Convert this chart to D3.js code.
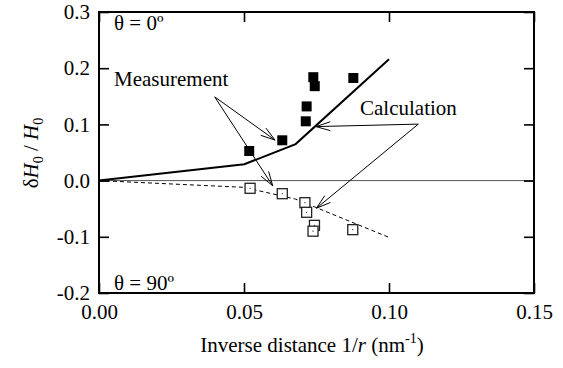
<!DOCTYPE html>
<html><head><meta charset="utf-8">
<script src="https://cdn.jsdelivr.net/npm/d3@7"></script>
<style>body{margin:0;background:#fff}svg{display:block}text{font-family:"Liberation Serif","Times New Roman",serif}</style>
</head><body><svg id="c" width="563" height="368"></svg>
<script>
const xTicks=[0,0.05,0.10,0.15];
const yTicks=[-0.2,-0.1,0.0,0.1,0.2,0.3];
const measX0=[0.0518,0.0632,0.0713,0.0716,0.0739,0.0744,0.0877];
const measY0=[0.0527,0.0717,0.1055,0.132,0.184,0.168,0.1826];
const measX90=[0.0521,0.0632,0.0710,0.0716,0.0743,0.0738,0.0875];
const measY90=[-0.0137,-0.0233,-0.0393,-0.0564,-0.0796,-0.090,-0.0873];
const calcX0=[0,0.0501,0.0678,0.10];
const calcY0=[0,0.029,0.065,0.216];
const calcX90=[0,0.05,0.0678,0.10];
const calcY90=[0,-0.012,-0.033,-0.101];
// annotation anchors in data space
const measArrow={from:[0.0399,0.149],to:[[0.0607,0.0721],[0.0599,-0.0093]]};
const calcArrow={from:[0.1101,0.1005],to:[[0.0748,0.0961],[0.0750,-0.0491]]};

const svg=d3.select("#c");
const L=99,R=534,T=12,B=293;
const x=d3.scaleLinear().domain([0,0.15]).range([L,R]);
const y=d3.scaleLinear().domain([-0.2,0.3]).range([B,T]);

svg.append("line").attr("x1",L).attr("x2",R).attr("y1",y(0)).attr("y2",y(0)).attr("stroke","#555").attr("stroke-width",1);

const fmtY=d=>d3.format(".1f")(d).replace("−","-");
const fmtX=d=>d3.format(".2f")(d);
const ax=svg.append("g").attr("transform",`translate(0,${B})`).call(d3.axisBottom(x).tickValues(xTicks).tickSizeInner(-10).tickSizeOuter(0).tickPadding(20).tickFormat(fmtX));
const axT=svg.append("g").attr("transform",`translate(0,${T})`).call(d3.axisTop(x).tickValues(xTicks).tickSizeInner(-10).tickSizeOuter(0).tickFormat(""));
const ay=svg.append("g").attr("transform",`translate(${L},0)`).call(d3.axisLeft(y).tickValues(yTicks).tickSizeInner(-10).tickSizeOuter(0).tickPadding(9).tickFormat(fmtY));
const ayR=svg.append("g").attr("transform",`translate(${R},0)`).call(d3.axisRight(y).tickValues(yTicks).tickSizeInner(-10).tickSizeOuter(0).tickFormat(""));
[ax,axT,ay,ayR].forEach(g=>{g.select(".domain").remove();g.selectAll("line").attr("stroke","#000").attr("stroke-width",1.6);g.selectAll("text").attr("font-size",21).attr("fill","#000").attr("font-family","Liberation Serif, serif");});
ax.selectAll("text").attr("dy","0.3em");
svg.append("rect").attr("x",L).attr("y",T).attr("width",R-L).attr("height",B-T).attr("fill","none").attr("stroke","#000").attr("stroke-width",2);

const line=d3.line().x(d=>x(d[0])).y(d=>y(d[1]));
svg.append("path").attr("d",line(calcX0.map((v,i)=>[v,calcY0[i]]))).attr("fill","none").attr("stroke","#000").attr("stroke-width",2);
svg.append("path").attr("d",line(calcX90.map((v,i)=>[v,calcY90[i]]))).attr("fill","none").attr("stroke","#000").attr("stroke-width",1).attr("stroke-dasharray","4,3");

const s=10;
svg.append("g").selectAll("rect").data(measX0.map((v,i)=>[v,measY0[i]])).join("rect")
 .attr("x",d=>x(d[0])-s/2).attr("y",d=>y(d[1])-s/2).attr("width",s).attr("height",s).attr("fill","#000");
const g90=svg.append("g").selectAll("g").data(measX90.map((v,i)=>[v,measY90[i]])).join("g");
g90.append("rect").attr("x",d=>x(d[0])-s/2).attr("y",d=>y(d[1])-s/2).attr("width",s).attr("height",s).attr("fill","#fff").attr("stroke","#222").attr("stroke-width",1.3);
g90.append("rect").attr("x",d=>x(d[0])-0.5).attr("y",d=>y(d[1])-0.5).attr("width",1).attr("height",1).attr("fill","#000");

function arrow(from,to){
  const x1=x(from[0]),y1=y(from[1]),x2=x(to[0]),y2=y(to[1]);
  svg.append("line").attr("x1",x1).attr("y1",y1).attr("x2",x2).attr("y2",y2).attr("stroke","#000").attr("stroke-width",1);
  const a=Math.atan2(y1-y2,x1-x2),len=15,w=0.3;
  [a+w,a-w].forEach(b=>svg.append("line").attr("x1",x2).attr("y1",y2).attr("x2",x2+len*Math.cos(b)).attr("y2",y2+len*Math.sin(b)).attr("stroke","#000").attr("stroke-width",1));
}
measArrow.to.forEach(t=>arrow(measArrow.from,t));
calcArrow.to.forEach(t=>arrow(calcArrow.from,t));

const txt=(t,X,Y,anchor)=>svg.append("text").attr("x",X).attr("y",Y).attr("font-size",21).attr("text-anchor",anchor||"start").text(t);
txt("Measurement",114,86);
txt("Calculation",360,115);
txt("θ = 0º",114,30);
txt("θ = 90º",114,290);

const xl=svg.append("text").attr("x",312).attr("y",352).attr("font-size",21).attr("text-anchor","middle");
xl.append("tspan").text("Inverse distance 1/");
xl.append("tspan").attr("font-style","italic").text("r");
xl.append("tspan").text(" (nm");
xl.append("tspan").attr("font-size",14).attr("dy",-9).text("-1");
xl.append("tspan").attr("dy",9).text(")");

const yl=svg.append("text").attr("transform","translate(38,153) rotate(-90)").attr("font-size",21).attr("text-anchor","middle");
yl.append("tspan").text("δ");
yl.append("tspan").attr("font-style","italic").text("H");
yl.append("tspan").attr("font-size",14).attr("dy",5).text("0");
yl.append("tspan").attr("dy",-5).text(" / ");
yl.append("tspan").attr("font-style","italic").text("H");
yl.append("tspan").attr("font-size",14).attr("dy",5).text("0");
</script></body></html>
